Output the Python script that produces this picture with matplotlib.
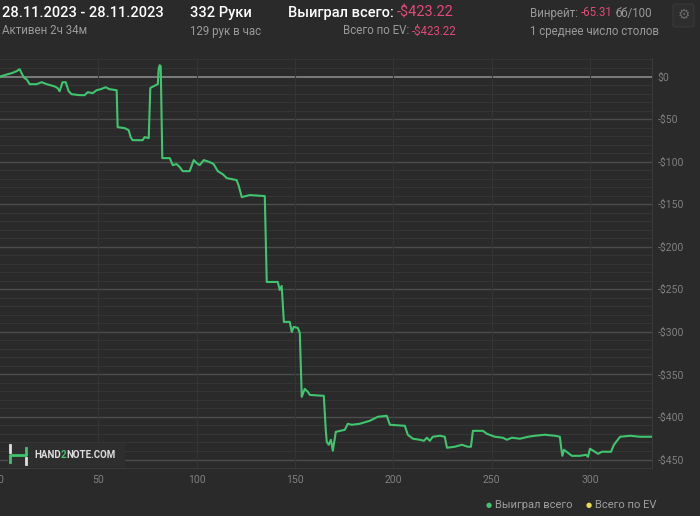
import numpy as np
import matplotlib.pyplot as plt
from matplotlib.patches import FancyBboxPatch
from matplotlib.lines import Line2D

plt.rcParams['font.family'] = ['Roboto', 'DejaVu Sans']

# hands played / total winnings ($)
hands = [0, 2.3, 3.9, 5.9, 8.4, 10.0, 11.5, 12.5, 13.5, 15.1, 18.6, 21.2, 23.7, 27.8, 29.3,
         30.3, 31.8, 33.4, 34.9, 36.4, 40.5, 43.0, 44.6, 47.1, 49.1, 51.2, 53.7, 55.7, 59.3,
         59.8, 63.4, 65.4, 66.4, 67.4, 72.5, 73.5, 75.6, 76.4, 77.1, 79.1, 80.2, 80.7, 81.2,
         81.7, 82.5, 86.3, 87.8, 89.8, 91.4, 92.9, 96.4, 98.5, 100.0, 101.5, 103.6, 106.6,
         108.6, 110.7, 113.2, 115.3, 120.3, 121.4, 122.9, 124.9, 127.0, 134.6, 135.6, 141.2,
         142.2, 143.2, 144.3, 147.3, 148.3, 149.3, 151.4, 152.4, 153.4, 154.9, 156.5, 157.5,
         164.6, 165.6, 166.1, 167.1, 168.2, 169.2, 170.7, 175.3, 176.8, 178.8, 182.9, 188.0,
         192.1, 196.6, 198.2, 205.8, 207.3, 209.9, 213.4, 215.5, 217.0, 218.5, 220.0, 223.6,
         226.1, 227.2, 231.2, 234.8, 237.8, 239.4, 240.4, 245.5, 247.5, 251.6, 255.6, 257.7,
         260.2, 264.3, 268.4, 271.9, 277.0, 282.1, 284.6, 285.4, 285.9, 286.7, 288.7, 290.7,
         294.8, 297.9, 298.9, 299.9, 302.4, 304.0, 306.0, 310.6, 312.1, 315.2, 320.3, 325.4,
         332]
won = [0, 1.5, 2.7, 3.9, 6.2, 8.6, 1.5, -2.0, -3.2, -9.0, -9.0, -6.7, -9.0, -11.6, -13.7,
       -17.3, -6.7, -6.7, -17.3, -20.8, -21.9, -21.9, -18.4, -19.6, -16.1, -14.9, -12.6, -14.9,
       -16.1, -59.5, -60.7, -63.0, -71.2, -74.8, -74.8, -71.2, -72.4, -13.7, -12.6, -10.2, -9.0,
       9.7, 13.3, 12.1, -95.9, -95.9, -104.1, -102.9, -106.5, -111.2, -111.2, -98.2, -101.8,
       -104.1, -98.2, -100.6, -102.9, -111.2, -114.7, -119.4, -121.7, -128.8, -141.7, -140.5,
       -139.3, -140.5, -241.4, -241.4, -250.8, -246.1, -288.3, -288.3, -300.1, -294.2, -295.4,
       -301.3, -376.4, -367.0, -370.5, -374.1, -375.2, -415.1, -429.2, -432.7, -426.8, -439.7,
       -417.5, -415.1, -408.0, -409.2, -408.0, -404.5, -399.8, -398.6, -409.2, -410.4, -420.9,
       -425.6, -426.8, -428.0, -424.4, -428.0, -423.3, -422.1, -423.3, -436.2, -435.0, -432.7,
       -435.0, -435.0, -416.3, -416.3, -419.8, -423.3, -424.4, -426.8, -424.4, -425.6, -423.3,
       -422.1, -420.9, -422.1, -423.3, -438.6, -445.7, -438.6, -442.1, -445.7, -445.7, -444.5,
       -446.8, -437.4, -440.9, -443.3, -440.9, -440.9, -432.7, -423.3, -422.1, -423.3, -423.22]

x_ticks = [0, 50, 100, 150, 200, 250, 300]
y_ticks = [0, -50, -100, -150, -200, -250, -300, -350, -400, -450]

bg = '#2a2a2a'
green = '#41c46f'
pink = '#e04a78'
grey = '#9a9a9a'

fig = plt.figure(figsize=(7, 5.16), dpi=100, facecolor=bg)
ax = fig.add_axes([0.0, 0.093, 0.9316, 0.795])
ax.set_facecolor(bg)

# grid
for v in range(-460, 30, 10):
    if v == 0:
        ax.axhline(v, color='#8a8a8a', lw=1.2, zorder=1)
    elif v % 50 == 0:
        ax.axhline(v, color='#4c4c4c', lw=1.0, zorder=1)
    else:
        ax.axhline(v, color='#353535', lw=0.8, zorder=1)
for t in x_ticks[1:]:
    ax.axvline(t, color='#343434', lw=0.8, zorder=1)

ax.plot(hands, won, color=green, lw=1.5, zorder=3, solid_joinstyle='round')

ax.set_xlim(0, 331.5)
ax.set_ylim(-460, 22)
ax.set_xticks(x_ticks)
ax.set_yticks(y_ticks)
ax.set_yticklabels(['$0' if v == 0 else '-$%d' % -v for v in y_ticks])
ax.yaxis.tick_right()
ax.tick_params(axis='both', length=0, colors='#808080', labelsize=7.5)
ax.tick_params(axis='y', pad=4)
ax.tick_params(axis='x', pad=5)
for s in ['left', 'top']:
    ax.spines[s].set_visible(False)
for s in ['right', 'bottom']:
    ax.spines[s].set_color('#3a3a3a')

# header
def px(x, y):
    return x / 700, 1 - y / 516

sub = 8.3
fig.text(*px(2, 13), '28.11.2023 - 28.11.2023', color='white', fontsize=10.5, va='center', fontweight='medium')
fig.text(*px(2, 31), 'Активен 2ч 34м', color=grey, fontsize=sub, va='center')
fig.text(*px(190, 13), '332 Руки', color='white', fontsize=10.5, va='center', fontweight='medium')
fig.text(*px(190, 31), '129 рук в час', color=grey, fontsize=sub, va='center')

fig.canvas.draw()
r = fig.canvas.get_renderer()

def pair(x, y, a, b, ca, cb, size, weight='normal'):
    t1 = fig.text(*px(x, y), a, color=ca, fontsize=size, va='center', fontweight=weight)
    w = t1.get_window_extent(renderer=r).width
    fig.text(*px(x + w + 3, y), b, color=cb, fontsize=size, va='center')

pair(288, 13, 'Выиграл всего:', '-$423.22', 'white', pink, 10.5, 'medium')
pair(343, 31, 'Всего по EV:', '-$423.22', grey, pink, sub)
t = fig.text(*px(530, 13), 'Винрейт:', color=grey, fontsize=sub, va='center')
w = t.get_window_extent(renderer=r).width
t2 = fig.text(*px(530 + w + 3, 13), '-65.31', color=pink, fontsize=sub, va='center')
w2 = t2.get_window_extent(renderer=r).width
fig.text(*px(530 + w + w2 + 6, 13), 'бб/100', color=grey, fontsize=sub, va='center')
fig.text(*px(530, 31), '1 среднее число столов', color=grey, fontsize=sub, va='center')

# settings button
fig.patches.append(FancyBboxPatch(px(673, 27), 21 / 700, 23 / 516, boxstyle='round,pad=0,rounding_size=0.004',
                                  transform=fig.transFigure, facecolor='#2e2e2e', edgecolor='#3a3a3a', lw=0.8))
fig.text(*px(683.5, 15), '\u2699', color='#6a6a6a', fontsize=10, ha='center', va='center', family='DejaVu Sans')

# watermark
fig.patches.append(FancyBboxPatch(px(8, 467), 117 / 700, 24 / 516, boxstyle='square,pad=0',
                                  transform=fig.transFigure, facecolor='#2e2e2e', edgecolor='none', zorder=5))
def seg(xs, ys, c):
    fig.lines.append(Line2D([x / 700 for x in xs], [1 - y / 516 for y in ys], color=c, lw=2,
                            transform=fig.transFigure, zorder=6))
seg([10, 10], [445, 452], '#e0e0e0')
seg([10, 10, 26, 26], [462, 455, 455, 448], green)
seg([26, 26], [458, 464], '#e0e0e0')
t = fig.text(*px(34, 455), 'HAND', color='#dddddd', fontsize=7, fontweight='bold', va='center', zorder=7)
w = t.get_window_extent(renderer=r).width
t = fig.text(*px(34 + w, 455), '2', color=green, fontsize=7, fontweight='bold', va='center', zorder=7)
w += t.get_window_extent(renderer=r).width
fig.text(*px(34 + w, 455), 'NOTE.COM', color='#dddddd', fontsize=7, fontweight='bold', va='center', zorder=7)

# legend
fig.text(*px(489, 505), '\u25cf', color=green, fontsize=5, va='center', ha='center', family='DejaVu Sans')
fig.text(*px(495, 505), 'Выиграл всего', color='#a0a0a0', fontsize=8, va='center')
fig.text(*px(589, 505), '\u25cf', color='#e8e04a', fontsize=5, va='center', ha='center', family='DejaVu Sans')
fig.text(*px(595, 505), 'Всего по EV', color='#a0a0a0', fontsize=8, va='center')

fig.savefig('out.png', dpi=100, facecolor=bg)
